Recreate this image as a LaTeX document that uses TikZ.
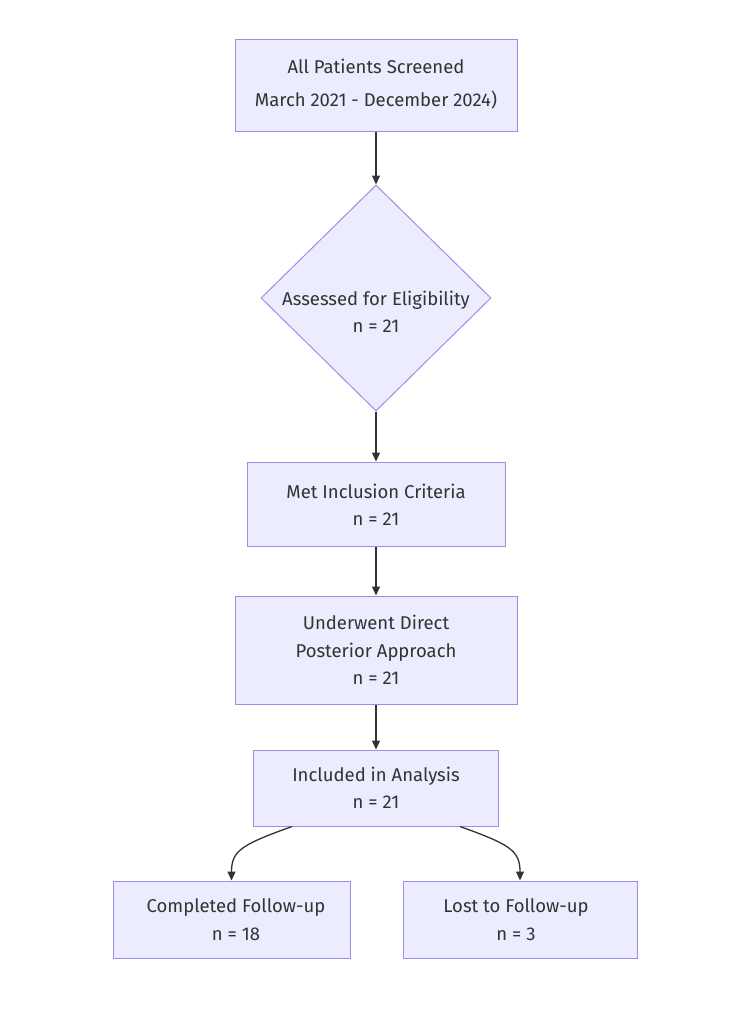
\documentclass[tikz,border=0pt]{standalone}
\usepackage{fontspec}
\setmainfont{Fira Sans}
\usetikzlibrary{shapes.geometric,arrows.meta,calc}
\definecolor{boxfill}{HTML}{ECECFF}
\definecolor{boxline}{HTML}{A48AE6}
\definecolor{ink}{HTML}{333333}
\begin{document}
\begin{tikzpicture}[x=1pt,y=-1pt,
  box/.style={draw=boxline,fill=boxfill,line width=1pt,inner sep=0pt,anchor=center},
  lbl/.style={align=center,text=ink,font=\fontsize{18.5}{27.5}\selectfont,inner sep=0pt},
  conn/.style={draw=ink,line width=1.3pt,-{Triangle[length=9pt,width=8pt]}}]
\useasboundingbox[fill=white] (0,0) rectangle (750,1015);
% boxes
\node[box,minimum width=282pt,minimum height=92pt] (b1) at (376,85) {};
\node[lbl,font=\fontsize{18.5}{33}\selectfont] at (376,84) {All Patients Screened\\March 2021 - December 2024)};
\node[box,diamond,minimum width=230pt,minimum height=226pt] (b2) at (376,298) {};
\node[lbl] at (376,312) {Assessed for Eligibility\\n = 21};
\node[box,minimum width=258pt,minimum height=84pt] (b3) at (376,504) {};
\node[lbl] at (376,505) {Met Inclusion Criteria\\n = 21};
\node[box,minimum width=282pt,minimum height=108pt] (b4) at (376,650) {};
\node[lbl] at (376,650) {Underwent Direct\\Posterior Approach\\n = 21};
\node[box,minimum width=245pt,minimum height=76pt] (b5) at (376,788) {};
\node[lbl] at (376,788) {Included in Analysis\\n = 21};
\node[box,minimum width=237pt,minimum height=77pt] (b6) at (231.5,919.5) {};
\node[lbl] at (236,919.5) {Completed Follow-up\\n = 18};
\node[box,minimum width=234pt,minimum height=77pt] (b7) at (520,919.5) {};
\node[lbl] at (516,919.5) {Lost to Follow-up\\n = 3};
% connectors
\draw[conn] (b1.south) -- (b2.north);
\draw[conn] (b2.south) -- (b3.north);
\draw[conn] (b3.south) -- (b4.north);
\draw[conn] (b4.south) -- (b5.north);
\draw[conn] ($(b5.south)+(-84,0)$) .. controls +(-50,18) and +(0,-30) .. (b6.north);
\draw[conn] ($(b5.south)+(84,0)$) .. controls +(50,18) and +(0,-30) .. (b7.north);
\end{tikzpicture}
\end{document}
